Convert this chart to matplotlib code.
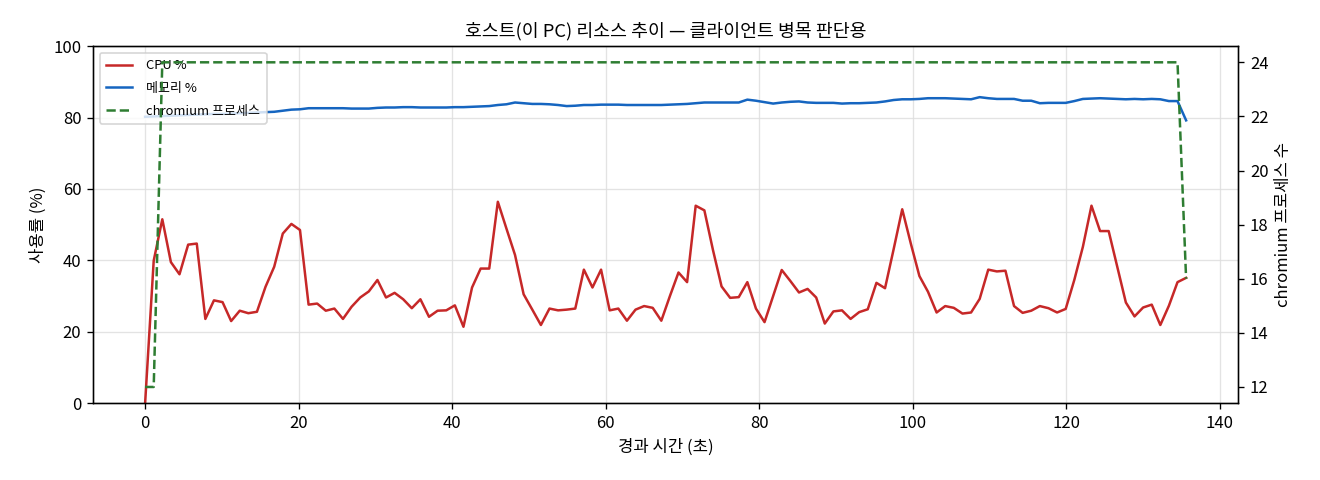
import matplotlib
matplotlib.use('Agg')
import matplotlib.pyplot as plt

plt.rcParams['font.family'] = ['Noto Sans CJK KR', 'DejaVu Sans']
plt.rcParams['axes.unicode_minus'] = False

# Elapsed time (s) for each sample
elapsed = [
    0.00, 1.12, 2.24, 3.36, 4.48, 5.61, 6.73, 7.85, 8.97, 10.09,
    11.21, 12.33, 13.45, 14.57, 15.69, 16.82, 17.94, 19.06, 20.18, 21.30,
    22.42, 23.54, 24.66, 25.78, 26.90, 28.03, 29.15, 30.27, 31.39, 32.51,
    33.63, 34.75, 35.87, 36.99, 38.11, 39.24, 40.36, 41.48, 42.60, 43.72,
    44.84, 45.96, 47.08, 48.20, 49.32, 50.45, 51.57, 52.69, 53.81, 54.93,
    56.05, 57.17, 58.29, 59.41, 60.53, 61.66, 62.78, 63.90, 65.02, 66.14,
    67.26, 68.38, 69.50, 70.62, 71.74, 72.87, 73.99, 75.11, 76.23, 77.35,
    78.47, 79.59, 80.71, 81.83, 82.95, 84.08, 85.20, 86.32, 87.44, 88.56,
    89.68, 90.80, 91.92, 93.04, 94.16, 95.29, 96.41, 97.53, 98.65, 99.77,
    100.89, 102.01, 103.13, 104.25, 105.37, 106.50, 107.62, 108.74, 109.86, 110.98,
    112.10, 113.22, 114.34, 115.46, 116.58, 117.71, 118.83, 119.95, 121.07, 122.19,
    123.31, 124.43, 125.55, 126.67, 127.79, 128.92, 130.04, 131.16, 132.28, 133.40,
    134.52, 135.64,
]

# CPU usage (%)
cpu = [
    0.0, 39.9, 51.5, 39.5, 36.1, 44.4, 44.7, 23.6, 28.8, 28.3,
    23.0, 25.9, 25.2, 25.6, 32.6, 38.2, 47.5, 50.2, 48.5, 27.6,
    27.9, 25.9, 26.5, 23.6, 27.0, 29.6, 31.3, 34.5, 29.6, 30.9,
    29.1, 26.6, 29.1, 24.2, 25.9, 26.0, 27.4, 21.4, 32.4, 37.7,
    37.7, 56.4, 48.9, 41.5, 30.5, 26.2, 21.9, 26.5, 26.0, 26.2,
    26.5, 37.4, 32.4, 37.4, 26.0, 26.5, 23.1, 26.2, 27.2, 26.7,
    23.1, 30.0, 36.6, 33.9, 55.3, 54.0, 42.9, 32.7, 29.5, 29.7,
    33.9, 26.5, 22.7, 30.0, 37.3, 34.2, 31.0, 32.0, 29.6, 22.3,
    25.7, 26.0, 23.6, 25.5, 26.3, 33.7, 32.2, 43.1, 54.3, 44.7,
    35.6, 31.2, 25.4, 27.2, 26.7, 25.1, 25.4, 29.2, 37.4, 36.9,
    37.1, 27.2, 25.3, 25.9, 27.2, 26.6, 25.4, 26.4, 34.5, 43.8,
    55.3, 48.2, 48.2, 38.2, 28.2, 24.3, 26.8, 27.6, 21.9, 27.3,
    33.9, 35.1,
]

# Memory usage (%)
memory = [
    80.2, 80.3, 80.4, 80.5, 80.6, 80.7, 80.8, 80.9, 81.0, 81.0,
    81.1, 81.2, 81.3, 81.4, 81.5, 81.6, 81.9, 82.2, 82.3, 82.6,
    82.6, 82.6, 82.6, 82.6, 82.5, 82.5, 82.5, 82.7, 82.8, 82.8,
    82.9, 82.9, 82.8, 82.8, 82.8, 82.8, 82.9, 82.9, 83.0, 83.1,
    83.2, 83.5, 83.7, 84.2, 84.0, 83.8, 83.8, 83.7, 83.5, 83.2,
    83.3, 83.5, 83.5, 83.6, 83.6, 83.6, 83.5, 83.5, 83.5, 83.5,
    83.5, 83.6, 83.7, 83.8, 84.0, 84.2, 84.2, 84.2, 84.2, 84.2,
    85.0, 84.7, 84.3, 83.9, 84.2, 84.4, 84.5, 84.2, 84.1, 84.1,
    84.1, 83.9, 84.0, 84.0, 84.1, 84.2, 84.5, 84.9, 85.1, 85.1,
    85.2, 85.4, 85.4, 85.4, 85.3, 85.2, 85.1, 85.7, 85.4, 85.2,
    85.2, 85.2, 84.7, 84.7, 84.0, 84.1, 84.1, 84.1, 84.6, 85.2,
    85.3, 85.4, 85.3, 85.2, 85.1, 85.2, 85.1, 85.2, 85.1, 84.6,
    84.6, 79.2,
]

# Number of chromium processes
procs = [12, 12] + [24] * 119 + [16]

fig, ax1 = plt.subplots(figsize=(11, 4), dpi=120)
fig.subplots_adjust(left=0.0705, right=0.938, top=0.904, bottom=0.16)

l1, = ax1.plot(elapsed, cpu, color='#c62828', lw=1.5, label='CPU %')
l2, = ax1.plot(elapsed, memory, color='#1565c0', lw=1.5, label='메모리 %')
ax1.set_ylim(0, 100)
ax1.set_xlabel('경과 시간 (초)')
ax1.set_ylabel('사용률 (%)')
ax1.grid(True, color='#dddddd', lw=0.8, alpha=0.8)

ax2 = ax1.twinx()
l3, = ax2.plot(elapsed, procs, color='#2e7d32', lw=1.5, ls='--',
               label='chromium 프로세스')
ax2.set_ylabel('chromium 프로세스 수')

ax1.legend(handles=[l1, l2, l3], loc='upper left', fontsize=7.8,
           labelspacing=0.75, handletextpad=1.1, borderpad=0.5)
ax1.set_title('호스트(이 PC) 리소스 추이 — 클라이언트 병목 판단용', fontsize=11)

plt.savefig('out.png', dpi=120)
